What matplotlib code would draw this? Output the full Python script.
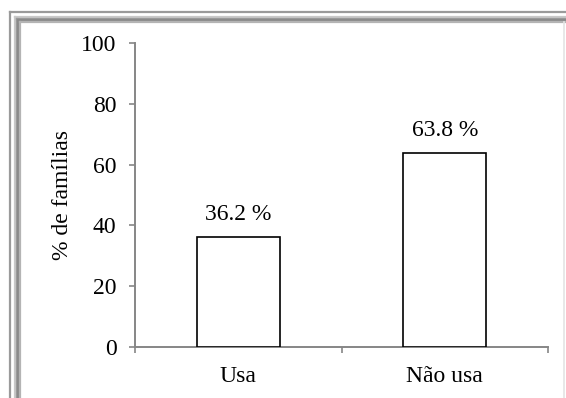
import matplotlib
matplotlib.use("Agg")
import matplotlib.pyplot as plt
from matplotlib.lines import Line2D

categories = ["Usa", "Não usa"]
values = [36.2, 63.8]
value_labels = ["36.2 %", "63.8 %"]
y_ticks = [0, 20, 40, 60, 80, 100]
y_label = "% de famílias"

plt.rcParams["font.family"] = ["Liberation Serif", "DejaVu Serif"]
FS = 17

W, H = 566, 398
fig = plt.figure(figsize=(W / 100, H / 100), dpi=100)
fig.patch.set_facecolor("white")

def px(x0, y0, x1, y1, **kw):
    fig.add_artist(Line2D([x0 / W, x1 / W], [1 - y0 / H, 1 - y1 / H],
                          transform=fig.transFigure, **kw))

# chart frame: thin outer line plus a heavier inner band
px(10, 12, W, 12, color="#9a9a9a", lw=1.6)
px(10, 12, 10, H + 5, color="#9a9a9a", lw=1.6)
for off, c in [(0, "#c8c8c8"), (1.5, "#9c9c9c"), (3, "#8a8a8a"), (4.5, "#b4b4b4")]:
    px(15 + off, 17 + off, W, 17 + off, color=c, lw=1.6)
    px(15 + off, 17 + off, 15 + off, H + 5, color=c, lw=1.6)
px(564, 22, 564, H + 5, color="#e4e4e4", lw=1.2)

ax = fig.add_axes([135 / W, 1 - 347 / H, (548 - 135) / W, (347 - 43) / H])
x = list(range(len(categories)))
bars = ax.bar(x, values, width=0.4, color="white", edgecolor="black", linewidth=1.2, zorder=3)

for b, lab in zip(bars, value_labels):
    ax.annotate(lab, (b.get_x() + b.get_width() / 2, b.get_height()),
                xytext=(0, 8.5), textcoords="offset points",
                ha="center", va="bottom", fontsize=FS)

ax.set_xlim(-0.5, len(categories) - 0.5)
ax.set_ylim(0, 100)
ax.set_yticks(y_ticks)
ax.set_yticklabels([str(t) for t in y_ticks])
ax.set_xticks(x)
ax.set_xticklabels(categories)
ax.set_xticks([i - 0.5 for i in range(len(categories) + 1)], minor=True)

for s in ["top", "right"]:
    ax.spines[s].set_visible(False)
for s in ["left", "bottom"]:
    ax.spines[s].set_color("#868686")
    ax.spines[s].set_linewidth(1.4)

ax.tick_params(axis="y", direction="out", length=4.3, width=1.2, color="#868686",
               pad=9, labelsize=FS)
ax.tick_params(axis="x", which="major", length=0, pad=14, labelsize=FS)
ax.tick_params(axis="x", which="minor", direction="out", length=4.3, width=1.2,
               color="#868686")

ax.set_ylabel(y_label, fontsize=FS)
ax.yaxis.set_label_coords(-0.15, 0.5)

fig.savefig("out.png", dpi=100)
